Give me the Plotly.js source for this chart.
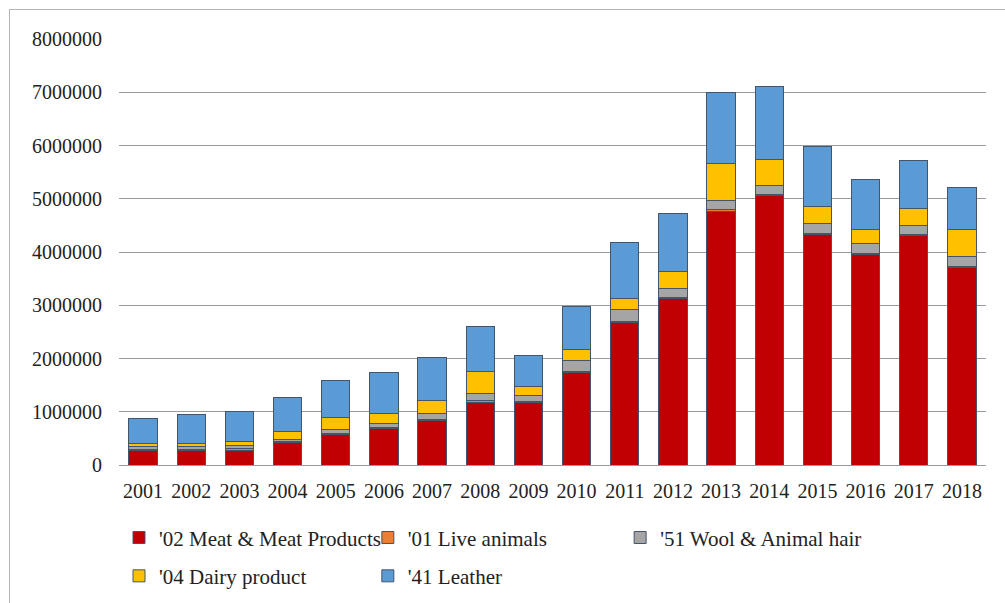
<!DOCTYPE html>
<html>
<head>
<meta charset="utf-8">
<script src="https://cdn.plot.ly/plotly-3.0.1.min.js"></script>
<style>
  html, body { margin: 0; padding: 0; background: #fff; }
  #wrap { position: relative; width: 1005px; height: 603px; overflow: hidden; }
  #chart { width: 1005px; height: 603px; }
  #frame { position: absolute; left: 9px; top: 9px; width: 1010px; height: 620px;
           border-left: 1px solid #b4b4b4; border-top: 1px solid #b4b4b4; pointer-events: none; }
</style>
</head>
<body>
<div id="wrap">
  <div id="chart"></div>
  <div id="frame"></div>
</div>
<script>
const years = ['2001','2002','2003','2004','2005','2006','2007','2008','2009',
               '2010','2011','2012','2013','2014','2015','2016','2017','2018'];

const meat    = [270000, 270000, 280000, 420000, 580000, 690000, 840000, 1180000, 1180000,
                 1740000, 2680000, 3120000, 4770000, 5060000, 4320000, 3950000, 4310000, 3710000];
const live    = [30000, 30000, 30000, 20000, 20000, 20000, 20000, 30000, 20000,
                 20000, 20000, 20000, 20000, 20000, 20000, 20000, 20000, 20000];
const wool    = [40000, 40000, 50000, 40000, 60000, 70000, 110000, 140000, 110000,
                 210000, 220000, 170000, 170000, 170000, 190000, 190000, 160000, 190000];
const dairy   = [60000, 70000, 80000, 140000, 230000, 190000, 250000, 400000, 170000,
                 190000, 210000, 320000, 700000, 490000, 330000, 260000, 330000, 500000];
const leather = [470000, 540000, 570000, 640000, 690000, 760000, 800000, 850000, 580000,
                 810000, 1040000, 1100000, 1340000, 1360000, 1120000, 950000, 890000, 790000];

const names  = ["'02 Meat & Meat Products", "'01 Live animals", "'51 Wool & Animal hair",
                "'04 Dairy product", "'41 Leather"];
const colors = ['#C00000', '#ED7D31', '#A5A5A5', '#FFC000', '#5B9BD5'];
const series = [meat, live, wool, dairy, leather];
const legendIds = ['legend', 'legend2', 'legend3', 'legend4', 'legend5'];

const FONT = "'Liberation Serif', 'Times New Roman', serif";

const traces = series.map((vals, i) => ({
  type: 'bar',
  x: years,
  y: vals,
  name: names[i],
  legend: legendIds[i],
  marker: { color: colors[i], line: { color: '#44546A', width: 1 } },
  hoverinfo: 'x+y+name'
}));

function leg(x, y) {
  return {
    x: x, y: y,
    xanchor: 'left',
    yanchor: 'middle',
    orientation: 'v',
    font: { family: FONT, size: 21, color: '#222' },
    bgcolor: 'rgba(0,0,0,0)',
    itemwidth: 30
  };
}

const layout = {
  width: 1005,
  height: 603,
  margin: { l: 119, r: 19, t: 39, b: 138, autoexpand: false },
  paper_bgcolor: '#fff',
  plot_bgcolor: '#fff',
  barmode: 'stack',
  bargap: 0.41,
  showlegend: true,
  font: { family: FONT, size: 20, color: '#222' },
  xaxis: {
    type: 'category',
    showgrid: false,
    showline: true,
    linecolor: '#9a9a9a',
    linewidth: 1,
    ticks: '',
    tickfont: { family: FONT, size: 20, color: '#222' },
    ticklabelstandoff: 8,
    zeroline: false
  },
  yaxis: {
    range: [0, 8000000],
    dtick: 1000000,
    tick0: 0,
    tickformat: 'd',
    showgrid: true,
    gridcolor: '#9a9a9a',
    gridwidth: 1,
    zeroline: false,
    showline: false,
    ticks: '',
    tickfont: { family: FONT, size: 20, color: '#222' },
    ticklabelstandoff: 16
  },
  legend:  leg(0.0,   -0.171),
  legend2: leg(0.287, -0.171),
  legend3: leg(0.578, -0.171),
  legend4: leg(0.0,   -0.261),
  legend5: leg(0.287, -0.261)
};

Plotly.newPlot('chart', traces, layout, { displayModeBar: false, staticPlot: true });
</script>
</body>
</html>
